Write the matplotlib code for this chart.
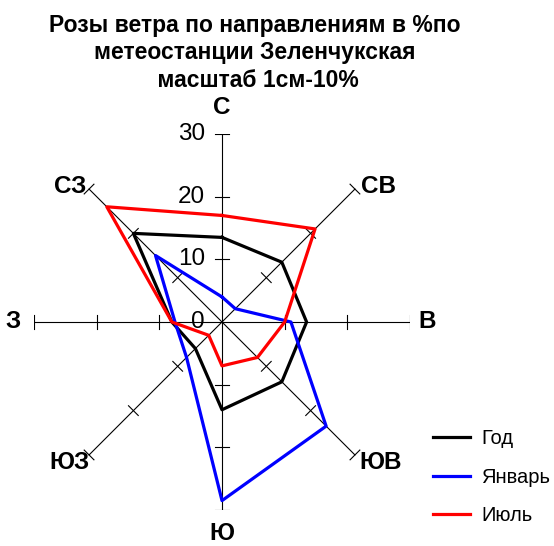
import numpy as np
import matplotlib.pyplot as plt

plt.rcParams['font.family'] = ['Liberation Sans', 'DejaVu Sans']

# направления: С, СВ, В, ЮВ, Ю, ЮЗ, З, СЗ
directions = ["С", "СВ", "В", "ЮВ", "Ю", "ЮЗ", "З", "СЗ"]
god = [13.5, 13.5, 13.5, 13.5, 14, 6, 8, 20]
janvar = [4, 3, 11, 23.5, 28.5, 8, 7.5, 15]
iyul = [17, 21, 10, 8, 7, 3, 8, 26]
series_names = ["Год", "Январь", "Июль"]
series_colors = ["black", "blue", "red"]
r_ticks = [0, 10, 20, 30]

fig = plt.figure(figsize=(5.54, 5.46), dpi=100)
# center (222, 322) px, radius 188 px for 30 units
ax = fig.add_axes([(222 - 188) / 554, (546 - 322 - 188) / 546, 376 / 554, 376 / 546])
ax.set_xlim(-30, 30)
ax.set_ylim(-30, 30)
ax.set_aspect('equal')
ax.axis('off')

angles = np.deg2rad(np.arange(8) * 45)
rmax = r_ticks[-1]
tick_half = 1.1

# spokes and tick marks
for th in angles:
    s, c = np.sin(th), np.cos(th)
    ax.plot([0, rmax * s], [0, rmax * c], color='black', lw=0.8, zorder=1)
    for r in r_ticks[1:]:
        px, py = r * s, r * c
        ax.plot([px - tick_half * c, px + tick_half * c],
                [py + tick_half * s, py - tick_half * s],
                color='black', lw=0.8, zorder=1)

# radial labels on north axis
for r in r_ticks:
    ax.text(-2.7, r, str(r), ha='right', va='center', fontsize=17.5)

# direction labels
label_pos = [(0, 34.3), (25, 21.6), (32.8, 0), (25.3, -22.4),
             (0, -33.8), (-24.3, -22.4), (-33.3, 0), (-24.3, 21.6)]
for name, (lx, ly) in zip(directions, label_pos):
    ax.text(lx, ly, name, ha='center', va='center', fontsize=17.5, fontweight='bold')

# series
for vals, name, col in zip([god, janvar, iyul], series_names, series_colors):
    v = np.array(vals + vals[:1], dtype=float)
    th = np.append(angles, angles[0])
    ax.plot(v * np.sin(th), v * np.cos(th), color=col, lw=2.3, label=name, zorder=3)

fig.legend(loc='upper left', bbox_to_anchor=(433 / 554, 1 - 429 / 546),
           frameon=False, fontsize=14.5, handlelength=1.85, handletextpad=0.55,
           labelspacing=0.98, borderpad=0, borderaxespad=0)

fig.text(0.46, 1 - 53 / 546, "Розы ветра по направлениям в %по\nметеостанции Зеленчукская\n масштаб 1см-10%",
         ha='center', va='center', fontsize=16.5, fontweight='bold', linespacing=1.27)

fig.savefig("out.png", dpi=100)
